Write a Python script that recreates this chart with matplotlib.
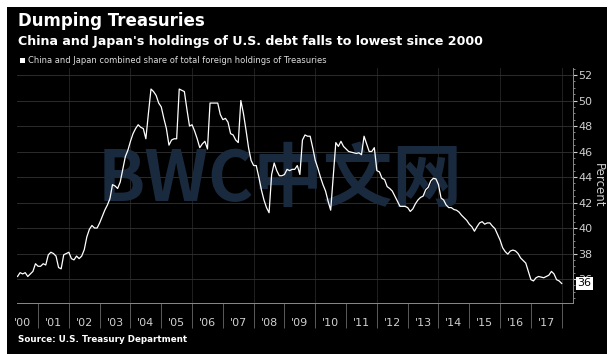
import numpy as np
import pandas as pd
import matplotlib
matplotlib.use('Agg')
import matplotlib.pyplot as plt
from matplotlib.patches import Rectangle
from matplotlib.ticker import MultipleLocator

# China + Japan share of foreign holdings of Treasuries, monthly from May 2000
share = [36.2, 36.5, 36.4, 36.5, 36.2, 36.4, 36.6, 37.2,
         37.0, 37.0, 37.2, 37.1, 37.9, 38.1, 38.0, 37.8, 36.9, 36.8, 37.9, 38.0,
         38.1, 37.6, 37.5, 37.8, 37.6, 37.8, 38.3, 39.3, 39.9, 40.2, 40.0, 40.0,
         40.4, 40.9, 41.4, 41.8, 42.3, 43.4, 43.3, 43.1, 43.6, 44.6, 45.6, 46.1,
         46.8, 47.4, 47.8, 48.1, 47.9, 47.8, 47.0, 49.0, 50.9, 50.7, 50.4, 49.8,
         49.5, 48.6, 47.8, 46.5, 46.9, 47.0, 47.0, 50.9, 50.8, 50.7, 49.3, 48.0,
         48.1, 47.6, 47.0, 46.3, 46.6, 46.8, 46.2, 49.8, 49.8, 49.8, 49.8, 48.9,
         48.5, 48.6, 48.3, 47.4, 47.3, 46.9, 46.7, 50.0, 49.0, 47.7, 46.3, 45.3,
         44.9, 44.9, 44.0, 43.0, 42.2, 41.6, 41.2, 44.2, 45.1, 44.5, 44.1, 44.1,
         44.2, 44.6, 44.5, 44.6, 44.6, 44.9, 44.2, 46.9, 47.3, 47.2, 47.2, 46.3,
         45.3, 44.7, 44.0, 43.4, 42.9, 42.1, 41.4, 44.0, 46.7, 46.4, 46.8, 46.4,
         46.2, 46.0, 45.95, 45.9, 45.85, 45.9, 45.75, 47.2, 46.6, 46.0, 46.0, 46.3,
         44.5, 44.4, 43.9, 43.8, 43.25, 43.1, 42.9, 42.5, 42.1, 41.7, 41.7, 41.7,
         41.6, 41.3, 41.5, 41.9, 42.2, 42.4, 42.5, 43.0, 43.2, 43.7, 43.9, 43.85,
         43.4, 42.35, 42.2, 41.8, 41.6, 41.6, 41.45, 41.4, 41.25, 41.0, 40.8, 40.6,
         40.3, 40.1, 39.75, 40.1, 40.4, 40.5, 40.3, 40.4, 40.4, 40.15, 39.95, 39.5,
         39.05, 38.45, 38.15, 37.95, 38.2, 38.27, 38.2, 38.0, 37.65, 37.45, 37.25, 36.6,
         35.95, 35.85, 36.1, 36.2, 36.15, 36.1, 36.2, 36.3, 36.6, 36.4, 35.95, 35.85,
         35.65]
dates = pd.date_range('2000-05-01', periods=len(share), freq='MS')
years = list(range(2000, 2018))
year_labels = ["'%02d" % (y % 100) for y in years]
pct_ticks = list(range(36, 53, 2))

W, H = 616, 354
fig = plt.figure(figsize=(W / 100, H / 100), dpi=100, facecolor='white')
fig.patches.append(Rectangle((7 / W, 0), 600 / W, 347 / H, transform=fig.transFigure,
                             facecolor='black', edgecolor='none', zorder=-5))

ax = fig.add_axes([17 / W, 51 / H, 556 / W, 235 / H])
ax.set_facecolor('black')

x = dates.year + (dates.month - 1) / 12
ax.plot(x, share, color='white', lw=0.9, zorder=3)

ax.set_xlim(2000 + 3.8 / 12, 2000 + 220.4 / 12)
ax.set_ylim(34.12, 52.55)

for s in ['left', 'top']:
    ax.spines[s].set_visible(False)
for s in ['right', 'bottom']:
    ax.spines[s].set_color('#8a8a8a')
    ax.spines[s].set_linewidth(0.7)

# right-hand percent axis
ax.yaxis.tick_right()
ax.yaxis.set_label_position('right')
ax.set_yticks(pct_ticks)
ax.yaxis.set_minor_locator(MultipleLocator(0.5))
ax.tick_params(axis='y', which='major', colors='#cfcfcf', labelsize=8, length=3, pad=1)
ax.tick_params(axis='y', which='minor', color='#9a9a9a', length=1.5)
ax.set_ylabel('Percent', rotation=270, color='#cfcfcf', fontsize=8.5, labelpad=9)
ax.grid(axis='y', which='major', color='#333333', lw=0.6)
for y in range(2002, 2019, 2):
    ax.axvline(y, color='#262626', lw=0.6, zorder=1)

# year separators and centred labels
ax.set_xticks(list(range(2001, 2019)))
ax.set_xticklabels([])
ax.set_xticks([y + 0.5 for y in years], minor=True)
ax.set_xticklabels(year_labels, minor=True)
ax.tick_params(axis='x', which='major', length=18, color='#6a6a6a', width=0.6)
ax.tick_params(axis='x', which='minor', length=0, pad=11, labelsize=8, labelcolor='#cfcfcf')

# last value tag
ax.annotate('36', xy=(1, share[-1]), xycoords=('axes fraction', 'data'),
            xytext=(3, 0), textcoords='offset points', va='center', ha='left',
            fontsize=8, color='black', annotation_clip=False, zorder=6,
            bbox=dict(boxstyle='square,pad=0.12', fc='white', ec='none'))

# watermark
ax.text(0.473, 0.52, 'BWC中文网', transform=ax.transAxes, ha='center', va='center',
        fontsize=50, fontweight='bold', color='#1a2a3e', zorder=2,
        family=['Noto Sans CJK SC', 'DejaVu Sans'])

fig.text(18 / W, 1 - 26 / H, 'Dumping Treasuries', color='white', fontsize=12,
         fontweight='bold', va='baseline')
fig.text(18 / W, 1 - 45 / H, "China and Japan's holdings of U.S. debt falls to lowest since 2000",
         color='white', fontsize=9.1, fontweight='bold', va='baseline')
fig.patches.append(Rectangle((20 / W, 1 - 63 / H), 5 / W, 5 / H, transform=fig.transFigure,
                             facecolor='white', edgecolor='none'))
fig.text(28 / W, 1 - 63 / H, 'China and Japan combined share of total foreign holdings of Treasuries',
         color='#dddddd', fontsize=6, va='baseline')
fig.text(18 / W, 1 - 342 / H, 'Source: U.S. Treasury Department', color='white',
         fontsize=6.3, fontweight='bold', va='baseline')

fig.savefig('out.png', dpi=100, facecolor='white')
